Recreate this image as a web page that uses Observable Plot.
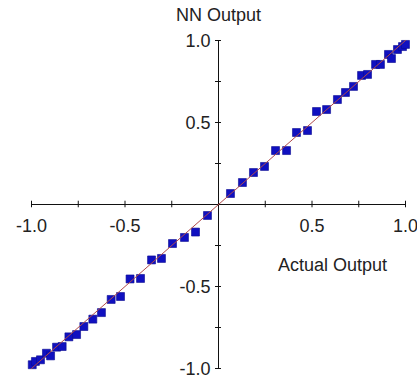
<!DOCTYPE html>
<html>
<head>
<meta charset="utf-8">
<script src="https://cdn.jsdelivr.net/npm/d3@7"></script>
<script src="https://cdn.jsdelivr.net/npm/@observablehq/plot@0.6"></script>
<style>
  body { margin: 0; background: #fff; }
  svg { font-family: "Liberation Sans", Arial, sans-serif; overflow: visible; }
</style>
</head>
<body>
<div id="chart"></div>
<script>
// Actual output (x) vs NN output (y)
const actual = [
  -0.996, -0.979, -0.952, -0.920, -0.898, -0.866, -0.836, -0.800, -0.759, -0.720,
  -0.672, -0.626, -0.574, -0.524, -0.473, -0.417, -0.358, -0.305, -0.246, -0.182,
  -0.123, -0.059, 0.064, 0.128, 0.187, 0.246, 0.305, 0.364, 0.417, 0.476,
  0.524, 0.578, 0.636, 0.679, 0.722, 0.765, 0.797, 0.840, 0.866, 0.909,
  0.925, 0.957, 0.984, 1.0
];
const nnOutput = [
  -0.977, -0.957, -0.947, -0.907, -0.923, -0.870, -0.866, -0.807, -0.793, -0.744,
  -0.699, -0.659, -0.579, -0.561, -0.454, -0.451, -0.338, -0.329, -0.238, -0.201,
  -0.168, -0.067, 0.067, 0.134, 0.195, 0.232, 0.329, 0.329, 0.439, 0.451,
  0.567, 0.579, 0.640, 0.683, 0.720, 0.787, 0.793, 0.854, 0.854, 0.915,
  0.890, 0.945, 0.963, 0.976
];
const fitX = [-1, 1];
const fitY = [-1, 1];
const xTicks = [-1, -0.75, -0.5, -0.25, 0.25, 0.5, 0.75, 1];
const yTicks = [-1, -0.75, -0.5, -0.25, 0.25, 0.5, 0.75, 1];
const xLabels = ["-1.0", "-0.5", "0.5", "1.0"];
const yLabels = ["-1.0", "-0.5", "0.5", "1.0"];
const xTitle = "Actual Output";
const yTitle = "NN Output";

const points = actual.map((x, i) => ({x, y: nnOutput[i]}));
const fit = fitX.map((x, i) => ({x, y: fitY[i]}));

const chart = Plot.plot({
  width: 417,
  height: 378,
  marginLeft: 31,
  marginRight: 12,
  marginTop: 40,
  marginBottom: 10,
  x: {domain: [-1, 1], axis: null},
  y: {domain: [-1, 1], axis: null},
  style: {fontSize: "18px", color: "#222", background: "#fff", overflow: "visible"},
  marks: [
    // axes crossing at origin
    Plot.ruleY([0], {x1: -1, x2: 1, stroke: "#111", strokeWidth: 1}),
    Plot.ruleX([0], {y1: -1, y2: 1, stroke: "#111", strokeWidth: 1}),
    Plot.ruleX(xTicks, {x: d => d, y1: -0.02, y2: 0.02, stroke: "#111"}),
    Plot.ruleY(yTicks, {y: d => d, x1: -0.016, x2: 0.016, stroke: "#111"}),
    Plot.text(xLabels, {x: d => +d, y: 0, text: d => d, dy: 22, fontSize: 18, fill: "#222"}),
    Plot.text(yLabels, {x: 0, y: d => +d, text: d => d, textAnchor: "end", dx: -8, dy: 1, fontSize: 18, fill: "#222"}),
    Plot.text([yTitle], {frameAnchor: "top", dy: -32, fontSize: 18, fill: "#222"}),
    Plot.text([xTitle], {x: 0.61, y: 0, dy: 61, fontSize: 18, fill: "#222"}),
    // data
    Plot.dot(points, {x: "x", y: "y", symbol: "square", r: 4.5, fill: "#1010c0", stroke: "#0a0a90", strokeWidth: 0.6}),
    Plot.line(fit, {x: "x", y: "y", stroke: "#b04a4a", strokeWidth: 1})
  ]
});
document.getElementById("chart").append(chart);
</script>
</body>
</html>
